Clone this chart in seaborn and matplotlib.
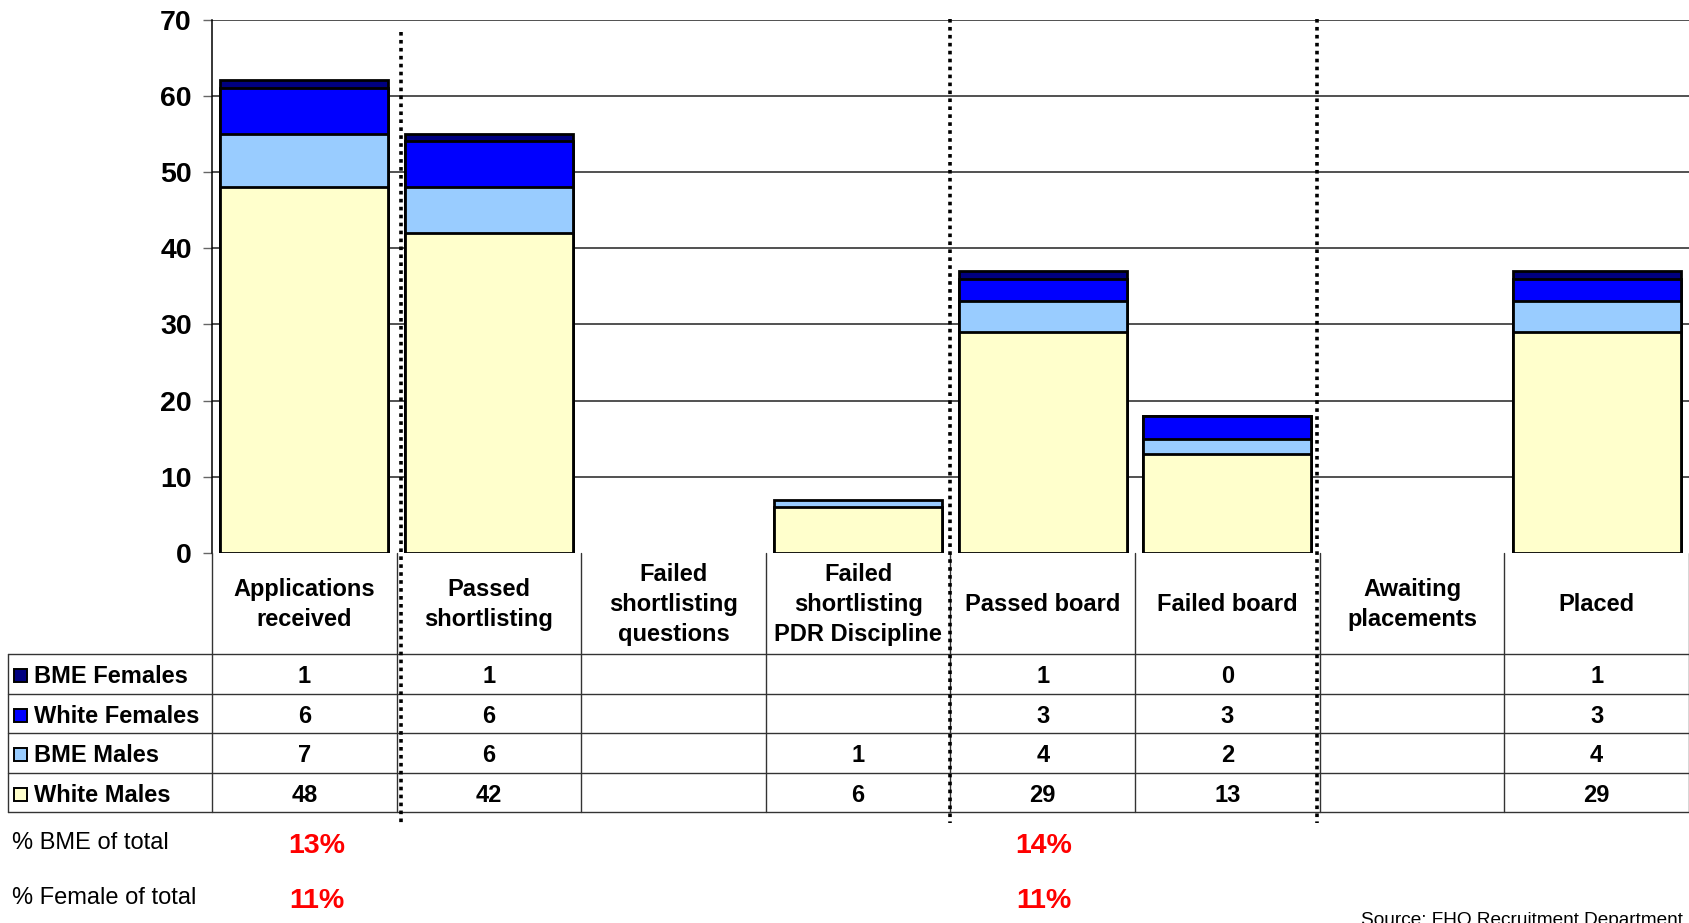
import numpy as np
import pandas as pd
import matplotlib
matplotlib.use("Agg")
import matplotlib.pyplot as plt
from matplotlib.lines import Line2D
from matplotlib.patches import Rectangle
import seaborn as sns

# Recruitment stages and head counts per group
categories = [
    "Applications\nreceived",
    "Passed\nshortlisting",
    "Failed\nshortlisting\nquestions",
    "Failed\nshortlisting\nPDR Discipline",
    "Passed board",
    "Failed board",
    "Awaiting\nplacements",
    "Placed",
]
bme_females = [1, 1, np.nan, np.nan, 1, 0, np.nan, 1]
white_females = [6, 6, np.nan, np.nan, 3, 3, np.nan, 3]
bme_males = [7, 6, np.nan, 1, 4, 2, np.nan, 4]
white_males = [48, 42, np.nan, 6, 29, 13, np.nan, 29]

series_names = ["BME Females", "White Females", "BME Males", "White Males"]
series_values = [bme_females, white_females, bme_males, white_males]
series_colors = ["#000080", "#0000FF", "#99CCFF", "#FFFFCC"]

yticks = [0, 10, 20, 30, 40, 50, 60, 70]
pct_columns = [0, 4]

sns.set_theme(style="white")
plt.rcParams["font.family"] = ["Liberation Sans", "DejaVu Sans"]
plt.rcParams["text.color"] = "black"

W, H = 1690, 923
fig = plt.figure(figsize=(W / 100, H / 100), dpi=100)


def fx(px):
    return px / W


def fy(py):
    return 1 - py / H


ax_left, ax_right, ax_top, ax_bottom = 212, 1689, 19.5, 553
ax = fig.add_axes([fx(ax_left), fy(ax_bottom), fx(ax_right) - fx(ax_left), fy(ax_top) - fy(ax_bottom)])

# Stacked bars: draw cumulative totals from the top segment down
vals = np.array(series_values, dtype=float)  # rows in top-to-bottom order
n = len(categories)
for i, (name, color) in enumerate(zip(series_names, series_colors)):
    below = vals[i:]
    cum = np.nansum(below, axis=0)
    present = ~np.isnan(vals[i])
    df = pd.DataFrame({"stage": [c for c, p in zip(categories, present) if p],
                       "count": cum[present]})
    sns.barplot(data=df, x="stage", y="count", order=categories, color=color,
                saturation=1, width=0.91, edgecolor="black", linewidth=2.0,
                errorbar=None, ax=ax, zorder=3)

ax.set_xlim(-0.5, n - 0.5)
ax.set_ylim(0, 70)
ax.set_yticks(yticks)
ax.set_yticklabels([str(t) for t in yticks], fontsize=20.5, fontweight="bold", color="black")
ax.set_xticks([])
ax.set_xlabel("")
ax.set_ylabel("")
for t in yticks[1:]:
    ax.axhline(t, color="#222222", linewidth=1.1, zorder=1)
for s in ["top", "right", "bottom"]:
    ax.spines[s].set_visible(False)
ax.spines["left"].set_color("black")
ax.spines["left"].set_linewidth(1.1)
ax.tick_params(axis="y", direction="out", length=6.5, width=1, color="#666666", pad=8, left=True)

# Data table beneath the chart
col_w = (ax_right - ax_left) / n
col_edges = [ax_left + i * col_w for i in range(n + 1)]
row_edges = [654, 693.5, 733, 772.5, 811.5]
tbl_left = 8.5
line_kw = dict(color="#333333", linewidth=1.0, transform=fig.transFigure)

# header row (category names)
for x in col_edges:
    fig.add_artist(Line2D([fx(x), fx(x)], [fy(ax_bottom), fy(row_edges[-1])], **line_kw))
fig.add_artist(Line2D([fx(tbl_left), fx(tbl_left)], [fy(row_edges[0]), fy(row_edges[-1])], **line_kw))
for y in row_edges:
    fig.add_artist(Line2D([fx(tbl_left), fx(ax_right)], [fy(y), fy(y)], **line_kw))

for j, cat in enumerate(categories):
    cx = col_edges[j] + col_w / 2
    fig.text(fx(cx), fy((ax_bottom + row_edges[0]) / 2 + 1), cat, ha="center", va="center",
             fontsize=17, fontweight="bold", linespacing=1.4, color="black")

for r, (name, color, values) in enumerate(zip(series_names, series_colors, series_values)):
    y0, y1 = row_edges[r], row_edges[r + 1]
    cy = (y0 + y1) / 2
    sq = 13
    fig.add_artist(Rectangle((fx(14), fy(cy + sq / 2 + 2)), fx(sq), sq / H,
                             facecolor=color, edgecolor="black", linewidth=1.4,
                             transform=fig.transFigure))
    fig.text(fx(34), fy(cy + 3), name, ha="left", va="center", fontsize=17, fontweight="bold",
             color="black")
    for j, v in enumerate(values):
        if not np.isnan(v):
            cx = col_edges[j] + col_w / 2
            fig.text(fx(cx), fy(cy + 3), f"{int(v)}", ha="center", va="center",
                     fontsize=17, fontweight="bold", color="black")

# Share of BME and female applicants
totals = np.nansum(vals, axis=0)
bme_share = (np.nan_to_num(vals[0]) + np.nan_to_num(vals[2])) / totals
female_share = (np.nan_to_num(vals[0]) + np.nan_to_num(vals[1])) / totals

fig.text(fx(12), fy(843), "% BME of total", ha="left", va="center", fontsize=17, color="black")
fig.text(fx(12), fy(898), "% Female of total", ha="left", va="center", fontsize=17, color="black")
pct_x = {0: 317, 4: 1044}
for j in pct_columns:
    fig.text(fx(pct_x[j]), fy(846), f"{round(bme_share[j] * 100):d}%", ha="center", va="center",
             fontsize=20.5, fontweight="bold", color="#FF0000")
    fig.text(fx(pct_x[j]), fy(901), f"{round(female_share[j] * 100):d}%", ha="center", va="center",
             fontsize=20.5, fontweight="bold", color="#FF0000")

# Dotted dividers between stage groups
for x, top in [(401, 32), (950, 19), (1317, 19)]:
    fig.add_artist(Line2D([fx(x), fx(x)], [fy(top), fy(823)], color="black", linewidth=2.6,
                          linestyle=(0, (1, 1.2)), transform=fig.transFigure, zorder=10))

fig.text(fx(1683), fy(925), "Source: FHQ Recruitment Department", ha="right", va="baseline",
         fontsize=13.7, color="black")

fig.savefig("out.png", dpi=100)
